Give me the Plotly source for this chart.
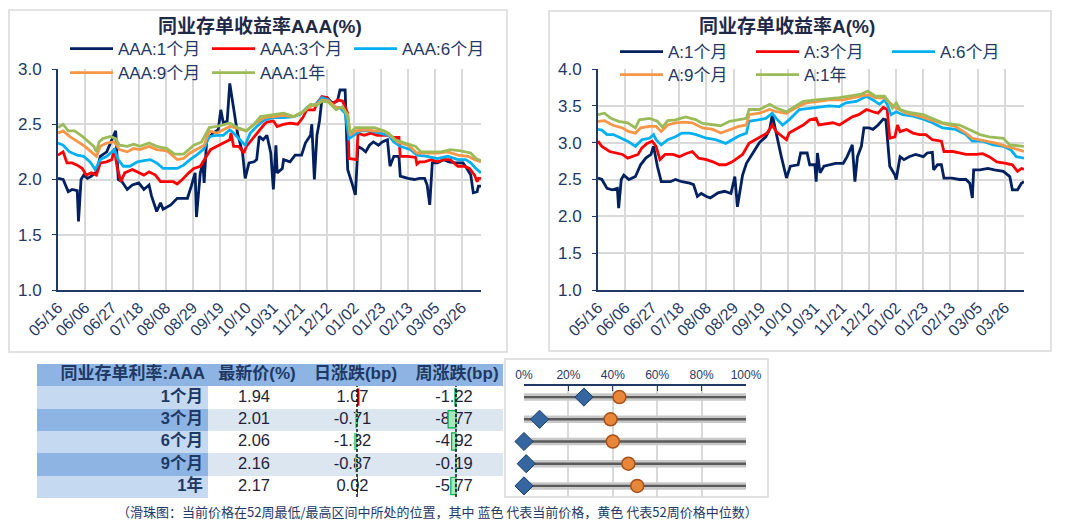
import pandas as pd
import plotly.graph_objects as go

# ---------------- DATA ----------------
start_date = "2023-05-16"
tick_step_days = 21

# (days since start, yield %)
aaa_1m = [(0,2.01),(4,2.00),(8,1.89),(11,1.91),(15,1.90),(16,1.62),(18,2.00),(20,2.04),(23,2.01),(26,2.03),(30,2.07),(33,2.21),(38,2.25),(42,2.36),(45,2.44),(47,2.00),(50,1.98),(54,1.91),(58,1.95),(63,1.97),(67,1.91),(71,1.95),(73,1.85),(77,1.71),(80,1.79),(82,1.73),(88,1.77),(93,1.83),(101,1.83),(104,1.94),(107,2.06),(108,1.66),(111,2.06),(113,2.15),(114,1.97),(116,2.36),(121,2.42),(125,2.45),(127,2.63),(129,2.51),(132,2.53),(134,2.87),(137,2.66),(140,2.42),(144,2.24),(146,2.01),(149,2.15),(153,2.16),(155,2.18),(157,2.39),(160,2.36),(163,2.40),(166,2.24),(168,1.91),(170,2.31),(171,2.06),(175,2.10),(176,2.18),(181,2.16),(185,2.22),(190,2.22),(193,2.33),(197,2.40),(198,2.50),(200,2.00),(202,2.40),(204,2.53),(206,2.74),(210,2.74),(214,2.69),(218,2.71),(220,2.81),(224,2.81),(226,2.09),(230,1.94),(232,1.86),(234,2.30),(237,2.28),(240,2.25),(243,2.31),(246,2.34),(250,2.31),(253,2.34),(257,2.36),(259,2.12),(262,2.21),(266,2.21),(267,2.03),(273,2.01),(278,2.00),(282,2.01),(286,2.01),(288,1.95),(290,1.77),(292,2.15),(296,2.15),(301,2.18),(305,2.16),(310,2.15),(316,2.15),(319,2.10),(322,2.04),(324,1.88),(327,1.89),(328,1.94),(330,1.94)]
aaa_3m = [(0,2.22),(4,2.25),(7,2.15),(11,2.15),(15,2.13),(19,2.10),(22,2.04),(26,2.06),(30,2.04),(33,2.15),(38,2.16),(42,2.18),(44,2.28),(46,2.12),(49,1.98),(52,2.06),(58,2.09),(63,2.06),(67,2.04),(71,2.07),(76,2.04),(80,1.98),(85,1.98),(90,1.98),(93,1.96),(97,2.00),(102,2.06),(106,2.10),(111,2.12),(115,2.19),(119,2.27),(124,2.30),(129,2.33),(134,2.36),(135,2.42),(137,2.30),(141,2.30),(145,2.24),(147,2.30),(153,2.39),(157,2.45),(161,2.50),(163,2.52),(168,2.53),(171,2.48),(176,2.50),(181,2.51),(187,2.50),(191,2.56),(194,2.63),(200,2.63),(202,2.69),(206,2.75),(210,2.74),(214,2.68),(218,2.72),(222,2.71),(226,2.60),(227,2.19),(231,2.18),(233,2.18),(234,2.42),(239,2.40),(244,2.42),(249,2.40),(254,2.40),(258,2.40),(262,2.38),(266,2.38),(267,2.21),(273,2.21),(279,2.20),(280,2.14),(282,2.16),(286,2.16),(291,2.18),(296,2.16),(301,2.18),(306,2.18),(312,2.12),(317,2.12),(321,2.10),(325,2.04),(327,1.98),(328,2.01),(330,2.01)]
aaa_6m = [(0,2.33),(4,2.31),(9,2.25),(15,2.22),(20,2.21),(25,2.16),(29,2.09),(33,2.18),(38,2.21),(44,2.27),(47,2.18),(51,2.12),(56,2.12),(62,2.16),(67,2.17),(72,2.18),(77,2.15),(82,2.10),(88,2.10),(93,2.10),(98,2.13),(103,2.18),(108,2.22),(114,2.28),(118,2.39),(124,2.40),(129,2.40),(134,2.45),(137,2.42),(142,2.36),(146,2.31),(150,2.42),(155,2.48),(161,2.54),(168,2.56),(176,2.56),(184,2.57),(189,2.59),(194,2.65),(201,2.68),(206,2.74),(211,2.72),(215,2.66),(220,2.65),(224,2.60),(227,2.37),(231,2.40),(236,2.44),(244,2.44),(252,2.42),(258,2.40),(262,2.34),(267,2.30),(275,2.27),(280,2.22),(288,2.21),(296,2.19),(304,2.21),(312,2.18),(318,2.18),(322,2.15),(326,2.10),(330,2.06)]
aaa_9m = [(0,2.42),(4,2.44),(9,2.39),(16,2.34),(21,2.30),(26,2.25),(30,2.21),(33,2.30),(38,2.33),(44,2.34),(48,2.27),(54,2.25),(59,2.28),(64,2.27),(71,2.30),(77,2.27),(85,2.26),(93,2.18),(98,2.19),(103,2.24),(108,2.27),(114,2.31),(118,2.44),(124,2.42),(134,2.48),(138,2.47),(147,2.44),(153,2.50),(161,2.56),(168,2.57),(176,2.58),(184,2.57),(191,2.61),(196,2.66),(202,2.68),(206,2.72),(211,2.71),(217,2.65),(222,2.65),(226,2.59),(228,2.40),(232,2.44),(239,2.45),(247,2.44),(254,2.44),(260,2.39),(265,2.34),(273,2.31),(280,2.24),(288,2.24),(296,2.24),(304,2.25),(312,2.22),(320,2.21),(325,2.18),(330,2.16)]
aaa_1y = [(0,2.47),(4,2.50),(8,2.44),(13,2.44),(19,2.39),(24,2.34),(28,2.30),(30,2.25),(32,2.34),(35,2.37),(41,2.39),(45,2.37),(48,2.31),(54,2.30),(59,2.32),(64,2.30),(71,2.33),(77,2.30),(85,2.28),(91,2.23),(98,2.23),(106,2.31),(112,2.34),(118,2.47),(124,2.48),(134,2.51),(140,2.47),(147,2.44),(153,2.50),(158,2.57),(168,2.59),(176,2.60),(184,2.57),(191,2.61),(197,2.68),(202,2.67),(206,2.71),(211,2.70),(217,2.63),(222,2.66),(226,2.57),(228,2.42),(232,2.47),(239,2.47),(247,2.47),(254,2.44),(258,2.42),(263,2.36),(273,2.32),(279,2.30),(283,2.25),(291,2.25),(299,2.25),(306,2.27),(314,2.26),(322,2.24),(326,2.19),(330,2.17)]

a_1m = [(0,2.52),(3,2.50),(7,2.38),(11,2.36),(15,2.38),(16,2.11),(18,2.50),(20,2.56),(24,2.50),(29,2.54),(33,2.70),(37,2.79),(41,2.84),(43,2.95),(46,2.68),(49,2.47),(52,2.47),(56,2.47),(60,2.50),(65,2.47),(71,2.45),(74,2.43),(77,2.27),(80,2.31),(84,2.27),(87,2.25),(93,2.32),(98,2.34),(103,2.31),(106,2.54),(108,2.13),(110,2.34),(112,2.56),(115,2.72),(120,2.86),(125,3.00),(130,3.08),(133,3.18),(135,3.38),(138,3.13),(142,2.81),(146,2.52),(149,2.68),(155,2.70),(157,2.86),(162,2.86),(164,2.70),(168,2.70),(169,2.47),(170,2.86),(172,2.59),(175,2.68),(181,2.70),(184,2.72),(190,2.72),(193,2.81),(197,2.97),(199,2.47),(201,2.81),(204,2.95),(206,3.20),(210,3.20),(213,3.18),(217,3.24),(221,3.32),(223,3.31),(226,2.68),(230,2.56),(231,2.50),(234,2.81),(237,2.77),(241,2.81),(246,2.84),(252,2.81),(255,2.86),(259,2.87),(260,2.63),(263,2.70),(266,2.70),(268,2.52),(274,2.52),(280,2.50),(285,2.50),(288,2.45),(290,2.25),(291,2.63),(296,2.63),(302,2.65),(307,2.63),(314,2.61),(319,2.54),(321,2.36),(325,2.36),(328,2.45),(330,2.47)]
a_3m = [(0,3.02),(3,2.95),(9,2.88),(14,2.86),(19,2.84),(23,2.79),(27,2.81),(31,2.84),(34,2.93),(38,2.99),(42,3.02),(45,2.95),(48,2.77),(52,2.84),(58,2.84),(63,2.81),(68,2.85),(73,2.88),(78,2.79),(84,2.77),(89,2.74),(94,2.70),(99,2.70),(104,2.74),(108,2.79),(112,2.84),(117,2.99),(122,3.04),(127,3.08),(131,3.13),(135,3.24),(138,3.15),(143,3.08),(146,3.04),(148,3.13),(153,3.18),(159,3.24),(164,3.31),(169,3.33),(171,3.24),(177,3.26),(182,3.27),(187,3.24),(192,3.30),(197,3.35),(202,3.38),(208,3.45),(213,3.42),(217,3.40),(221,3.48),(224,3.45),(226,3.06),(230,3.08),(232,3.24),(234,3.15),(239,3.18),(244,3.13),(249,3.11),(254,3.11),(259,3.04),(266,3.02),(268,2.88),(275,2.88),(280,2.86),(285,2.84),(293,2.84),(298,2.85),(303,2.81),(309,2.74),(316,2.72),(321,2.70),(325,2.61),(328,2.65),(330,2.64)]
a_6m = [(0,3.18),(3,3.17),(7,3.11),(12,3.11),(18,3.06),(23,3.02),(29,2.95),(34,3.04),(40,3.06),(43,3.11),(45,3.04),(49,2.97),(54,3.04),(60,3.08),(65,3.13),(71,3.13),(76,3.11),(84,3.06),(91,3.04),(99,2.99),(104,3.04),(109,3.09),(115,3.13),(117,3.29),(124,3.31),(130,3.33),(135,3.40),(138,3.33),(143,3.24),(148,3.31),(156,3.45),(164,3.47),(171,3.49),(179,3.50),(187,3.49),(192,3.54),(200,3.56),(208,3.63),(213,3.58),(218,3.52),(222,3.58),(224,3.52),(227,3.38),(231,3.42),(236,3.38),(244,3.36),(252,3.32),(259,3.27),(267,3.20),(277,3.18),(285,3.11),(290,3.02),(298,3.02),(306,2.97),(314,2.95),(320,2.90),(324,2.81),(330,2.79)]
a_9m = [(0,3.29),(5,3.30),(11,3.24),(19,3.20),(24,3.15),(29,3.13),(33,3.20),(40,3.22),(45,3.22),(49,3.15),(54,3.24),(60,3.27),(67,3.28),(73,3.27),(81,3.20),(89,3.18),(95,3.13),(102,3.18),(109,3.22),(115,3.24),(117,3.38),(125,3.40),(133,3.45),(138,3.42),(146,3.40),(153,3.47),(161,3.54),(171,3.56),(179,3.58),(190,3.58),(197,3.61),(205,3.64),(210,3.65),(215,3.61),(222,3.61),(226,3.54),(231,3.47),(239,3.40),(249,3.36),(257,3.31),(265,3.27),(277,3.22),(285,3.13),(290,3.06),(301,3.02),(309,2.99),(316,2.95),(321,2.93),(330,2.88)]
a_1y = [(0,3.38),(5,3.40),(10,3.33),(16,3.29),(23,3.27),(29,3.20),(32,3.31),(40,3.33),(46,3.29),(50,3.21),(54,3.30),(60,3.31),(68,3.35),(76,3.31),(81,3.26),(89,3.24),(95,3.23),(102,3.29),(109,3.31),(115,3.33),(117,3.45),(125,3.45),(133,3.52),(138,3.47),(146,3.42),(153,3.49),(159,3.56),(169,3.58),(177,3.59),(187,3.61),(197,3.64),(204,3.66),(209,3.70),(215,3.63),(222,3.63),(226,3.54),(228,3.47),(231,3.54),(234,3.45),(241,3.41),(252,3.38),(259,3.33),(267,3.27),(280,3.24),(288,3.18),(296,3.11),(303,3.08),(314,3.06),(319,2.97),(325,2.96),(330,2.95)]

aaa_names = ["AAA:1个月", "AAA:3个月", "AAA:6个月", "AAA:9个月", "AAA:1年"]
a_names = ["A:1个月", "A:3个月", "A:6个月", "A:9个月", "A:1年"]

tenors = ["1个月", "3个月", "6个月", "9个月", "1年"]
latest = [1.94, 2.01, 2.06, 2.16, 2.17]
daily_bp = [1.07, -0.71, -1.32, -0.87, 0.02]
weekly_bp = [-1.22, -8.77, -4.92, -0.19, -5.77]
cur_pct = [0.27, 0.07, 0.00, 0.01, 0.00]
med_pct = [0.43, 0.39, 0.40, 0.47, 0.51]
full_range = [1.0, 1.0, 1.0, 1.0, 1.0]
table_header = ["同业存单利率:AAA", "最新价(%)", "日涨跌(bp)", "周涨跌(bp)"]
footnote = "（滑珠图：当前价格在52周最低/最高区间中所处的位置，其中 蓝色 代表当前价格，黄色 代表52周价格中位数）"

# ---------------- STYLE ----------------
PAGE_OFF = 8                      # browser body margin
W, H = 1072 - PAGE_OFF, 521 - PAGE_OFF
def fx(p): return (p - PAGE_OFF) / W
def fy(p): return 1 - (p - PAGE_OFF) / H

COLORS = ["#002060", "#FF0000", "#00B0F0", "#F79646", "#9BBB59"]
TXT = "#1F3864"
GRID = "#D9D9D9"
FONT = "Liberation Sans, Arial, Noto Sans CJK SC, sans-serif"
CJK = "Noto Sans CJK SC, sans-serif"

start = pd.Timestamp(start_date)
def to_dates(pairs):
    return [start + pd.Timedelta(days=d) for d, _ in pairs]
def vals(pairs):
    return [v for _, v in pairs]

fig = go.Figure()

aaa_series = [aaa_1m, aaa_3m, aaa_6m, aaa_9m, aaa_1y]
a_series = [a_1m, a_3m, a_6m, a_9m, a_1y]
for i, (nm, s) in enumerate(zip(aaa_names, aaa_series)):
    fig.add_trace(go.Scatter(x=to_dates(s), y=vals(s), name=nm, mode="lines",
                             line=dict(color=COLORS[i], width=2.8),
                             legend="legend" if i < 3 else "legend2",
                             xaxis="x", yaxis="y", hoverinfo="skip"))
for i, (nm, s) in enumerate(zip(a_names, a_series)):
    fig.add_trace(go.Scatter(x=to_dates(s), y=vals(s), name=nm, mode="lines",
                             line=dict(color=COLORS[i], width=2.8),
                             legend="legend3" if i < 3 else "legend4",
                             xaxis="x2", yaxis="y2", hoverinfo="skip"))

# ---------------- TABLE ----------------
col_w = [171, 92, 105, 98]
edges = [0]
for w in col_w:
    edges.append(edges[-1] + w)
centers = [(edges[i] + edges[i + 1]) / 2 for i in range(len(col_w))]
rows = ["hdr"] + tenors
zc = [[0, 0, 0, 0]]
for i in range(len(tenors)):
    zc.append([1 if i % 2 == 0 else 2] + [3 if i % 2 == 0 else 4] * 3)
cell_scale = [[0, "#8DB4E2"], [0.25, "#C5D9F1"], [0.5, "#8DB4E2"], [0.75, "#FFFFFF"], [1, "#DCE6F1"]]
fig.add_trace(go.Heatmap(x=edges, y=rows, z=zc, colorscale=cell_scale, zmin=0, zmax=4,
                         showscale=False, hoverinfo="skip", xaxis="x3", yaxis="y3"))

hdr_font = dict(family=FONT, size=17, color=TXT)
fig.add_trace(go.Scatter(x=[edges[1] - 3], y=["hdr"], text=["<b>" + table_header[0] + "</b>"],
                         mode="text", textposition="middle left", textfont=hdr_font,
                         xaxis="x3", yaxis="y3", showlegend=False, hoverinfo="skip"))
fig.add_trace(go.Scatter(x=[c + 3 for c in centers[1:]], y=["hdr"] * 3, text=["<b>" + t + "</b>" for t in table_header[1:]],
                         mode="text", textposition="middle center", textfont=hdr_font,
                         xaxis="x3", yaxis="y3", showlegend=False, hoverinfo="skip"))
fig.add_trace(go.Scatter(x=[edges[1] - 5] * len(tenors), y=tenors, text=["<b>" + t + "</b>" for t in tenors],
                         mode="text", textposition="middle left", textfont=dict(family=FONT, size=16.5, color=TXT),
                         xaxis="x3", yaxis="y3", showlegend=False, hoverinfo="skip"))
val_font = dict(family=FONT, size=16.5, color="#1F1F3A")
for ci, col in zip([1, 2, 3], [latest, daily_bp, weekly_bp]):
    fig.add_trace(go.Scatter(x=[centers[ci]] * len(tenors), y=tenors, text=[f"{v:.2f}" for v in col],
                             mode="text", textposition="middle center", textfont=val_font,
                             xaxis="x3", yaxis="y3", showlegend=False, hoverinfo="skip"))

# data bars
fig.add_trace(go.Bar(x=daily_bp, y=tenors, orientation="h", width=0.78,
                     marker=dict(color=["#C00000" if v > 0 else "#63D08A" for v in daily_bp],
                                 line=dict(width=0)),
                     xaxis="x4", yaxis="y4", showlegend=False, hoverinfo="skip"))
fig.add_trace(go.Bar(x=weekly_bp, y=tenors, orientation="h", width=0.78,
                     marker=dict(color=["#C00000" if v > 0 else "#A8E6BC" for v in weekly_bp],
                                 line=dict(width=1.2, color="#00B050")),
                     xaxis="x6", yaxis="y4", showlegend=False, hoverinfo="skip"))

# ---------------- SLIDER ----------------
fig.add_trace(go.Bar(x=full_range, y=tenors, orientation="h", width=0.34, base=0,
                     marker=dict(color="#C8C8C8", line=dict(width=0)),
                     xaxis="x5", yaxis="y4", showlegend=False, hoverinfo="skip"))
fig.add_trace(go.Bar(x=full_range, y=tenors, orientation="h", width=0.11, base=0,
                     marker=dict(color="#5A5A5A", line=dict(width=0)),
                     xaxis="x5", yaxis="y4", showlegend=False, hoverinfo="skip"))
fig.add_trace(go.Scatter(x=med_pct, y=tenors, mode="markers",
                         marker=dict(symbol="circle", size=13, color="#E8873A",
                                     line=dict(color="#A5511A", width=1.5)),
                         xaxis="x5", yaxis="y4", showlegend=False, hoverinfo="skip", cliponaxis=False))
fig.add_trace(go.Scatter(x=cur_pct, y=tenors, mode="markers",
                         marker=dict(symbol="diamond", size=14, color="#3566A0",
                                     line=dict(color="#1D3E66", width=1)),
                         xaxis="x5", yaxis="y4", showlegend=False, hoverinfo="skip", cliponaxis=False))

# ---------------- LAYOUT ----------------
end = start + pd.Timedelta(days=aaa_1m[-1][0])
dt_ms = tick_step_days * 86400000

def date_axis(dom, anchor):
    return dict(domain=dom, anchor=anchor, type="date", range=[start, end], tick0=start, dtick=dt_ms,
                tickformat="%m/%d", tickangle=-45, showgrid=True, gridcolor=GRID, gridwidth=1.5,
                showline=True, linecolor=TXT, linewidth=2, ticks="", zeroline=False,
                tickfont=dict(family=FONT, size=16, color=TXT))

def val_axis(dom, anchor, rng):
    return dict(domain=dom, anchor=anchor, range=rng, dtick=0.5, tickformat=".1f", showgrid=True,
                gridcolor=GRID, gridwidth=1.5, showline=True, linecolor=TXT, linewidth=2,
                ticks="outside", ticklen=4, tickcolor=TXT, zeroline=False, ticklabelstandoff=7,
                tickfont=dict(family=FONT, size=17, color=TXT))

def legend_box(xp, yp, ew):
    return dict(orientation="h", x=fx(xp), y=fy(yp), xanchor="left", yanchor="middle",
                entrywidth=ew, entrywidthmode="pixels", itemwidth=43, traceorder="normal",
                font=dict(family=FONT, size=17, color=TXT), bgcolor="rgba(0,0,0,0)",
                borderwidth=0, tracegroupgap=0)

shapes = []
for x0, y0, x1, y1 in [(9, 10, 507, 352), (549, 11, 1051, 351), (505, 359, 768, 497)]:
    shapes.append(dict(type="rect", xref="paper", yref="paper", x0=fx(x0), x1=fx(x1), y0=fy(y1), y1=fy(y0),
                       line=dict(color=GRID, width=1.5), fillcolor="rgba(0,0,0,0)", layer="below"))
for xr in ["x4", "x6"]:
    shapes.append(dict(type="line", xref=xr, yref="y4 domain", x0=0, x1=0, y0=0, y1=1,
                       line=dict(color="#111111", width=1.5, dash="3px,2px"), layer="above"))

annotations = [
    dict(text="<b>同业存单收益率AAA(%)</b>", x=fx(260), y=fy(27), xref="paper", yref="paper",
         showarrow=False, font=dict(family=FONT, size=19, color="#1F2A48"), xanchor="center", yanchor="middle"),
    dict(text="<b>同业存单收益率A(%)</b>", x=fx(787), y=fy(27), xref="paper", yref="paper",
         showarrow=False, font=dict(family=FONT, size=19, color="#1F2A48"), xanchor="center", yanchor="middle"),
    dict(text=footnote, x=fx(437), y=fy(511), xref="paper", yref="paper", showarrow=False,
         font=dict(family=CJK, size=13, color=TXT), xanchor="center", yanchor="middle"),
]

fig.update_layout(
    width=W, height=H, autosize=False, margin=dict(l=0, r=0, t=0, b=0, pad=0, autoexpand=False),
    paper_bgcolor="white", plot_bgcolor="rgba(0,0,0,0)", barmode="overlay", hovermode=False,
    xaxis=date_axis([fx(58), fx(481)], "y"),
    yaxis=val_axis([fy(290), fy(69)], "x", [1.0, 3.0]),
    xaxis2=date_axis([fx(598), fx(1024)], "y2"),
    yaxis2=val_axis([fy(290), fy(69)], "x2", [1.0, 4.0]),
    xaxis3=dict(domain=[fx(37), fx(503)], anchor="y3", range=[edges[0], edges[-1]], visible=False),
    yaxis3=dict(domain=[fy(498), fy(364)], anchor="x3", type="category", categoryorder="array",
                categoryarray=rows, range=[len(rows) - 0.5, -0.5], visible=False),
    xaxis4=dict(domain=[fx(300), fx(405)], anchor="y4", range=[-57 / 2.3, 48 / 2.3], visible=False),
    xaxis6=dict(domain=[fx(405), fx(503)], anchor="y4", range=[-51 / 0.9, 47 / 0.9], visible=False),
    yaxis4=dict(domain=[fy(497), fy(386)], anchor="x4", type="category", categoryorder="array",
                categoryarray=tenors, range=[len(tenors) - 0.5, -0.5], visible=False),
    xaxis5=dict(domain=[fx(524), fx(746)], anchor="y4", side="top", range=[0, 1], tickvals=[0, 0.2, 0.4, 0.6, 0.8, 1.0],
                tickformat=".0%", showgrid=True, gridcolor=GRID, gridwidth=1.5, showline=True,
                linecolor=TXT, linewidth=1.5, ticks="inside", ticklen=5, tickcolor=TXT, zeroline=False,
                tickfont=dict(family=FONT, size=12, color=TXT)),
    legend=legend_box(65, 49, 84),
    legend2=legend_box(65, 73, 84),
    legend3=legend_box(615, 52, 78),
    legend4=legend_box(615, 75, 78),
    shapes=shapes,
    annotations=annotations,
)

fig.write_html("out.html")
